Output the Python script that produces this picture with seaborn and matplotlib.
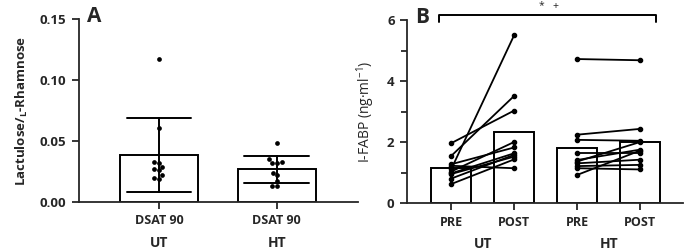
import numpy as np
import pandas as pd
import seaborn as sns
from matplotlib import pyplot as plt

## panel A data: lactulose / L-rhamnose ratio
lr_ut = [0.117, 0.061, 0.033, 0.032, 0.029, 0.027, 0.026, 0.022, 0.020, 0.019]
lr_ht = [0.048, 0.035, 0.033, 0.032, 0.032, 0.024, 0.022, 0.0175, 0.013, 0.013]

## panel B data: I-FABP pre / post (paired)
fabp_ut_pre = [1.96, 1.54, 1.27, 1.22, 1.10, 1.03, 0.97, 0.95, 0.80, 0.62]
fabp_ut_post = [3.03, 3.51, 1.82, 1.14, 5.50, 2.00, 1.63, 1.52, 1.58, 1.43]
fabp_ht_pre = [4.72, 2.24, 2.07, 1.65, 1.41, 1.36, 1.30, 1.21, 1.14, 0.92]
fabp_ht_post = [4.68, 2.43, 2.04, 1.65, 1.75, 2.00, 1.42, 1.25, 1.10, 1.72]

groups = ["UT", "HT"]
times = ["PRE", "POST"]

sns.set_style("ticks")
plt.rcParams['font.family'] = ['Open Sans', 'DejaVu Sans']
plt.rcParams['axes.linewidth'] = 1.3
plt.rcParams['xtick.major.width'] = 1.3
plt.rcParams['ytick.major.width'] = 1.3
plt.rcParams['ytick.minor.width'] = 1.3

fig = plt.figure(figsize=(6.85, 2.52), dpi=100)
ax1 = fig.add_axes([79/685, 50/252, 279/685, 183/252])
ax2 = fig.add_axes([407/685, 49/252, 276/685, 183/252])

# ---- panel A
dfa = pd.DataFrame({"group": ["UT"]*len(lr_ut) + ["HT"]*len(lr_ht),
                    "ratio": lr_ut + lr_ht})
sns.barplot(data=dfa, x="group", y="ratio", order=groups, errorbar="sd",
            width=0.66, capsize=0.55, fill=False, color="black",
            linewidth=1.4, err_kws={"linewidth": 1.4, "color": "black"}, ax=ax1)
for p in ax1.patches:
    p.set_facecolor("white")
    p.set_edgecolor("black")
    p.set_fill(True)
    p.set_zorder(0)
sns.swarmplot(data=dfa, x="group", y="ratio", order=groups, color="black",
              size=3.4, ax=ax1, zorder=4)
ax1.set_ylim(0, 0.15)
ax1.set_yticks([0, 0.05, 0.10, 0.15])
ax1.set_yticklabels(["0.00", "0.05", "0.10", "0.15"])
ax1.set_xlim(-0.68, 1.69)
ax1.set_xticks([0, 1])
ax1.set_xticklabels(["DSAT 90", "DSAT 90"], fontsize=9, fontweight="bold")
ax1.set_xlabel("")
ax1.set_ylabel("Lactulose/$_{\\mathregular{L}}$-Rhamnose", fontsize=9.5,
               fontweight="bold", labelpad=7)
for lab in ax1.get_yticklabels():
    lab.set_fontweight("bold")
    lab.set_fontsize(9.5)
ax1.tick_params(axis="both", length=5, pad=4)
for i, g in enumerate(groups):
    ax1.text(i, -0.225, g, transform=ax1.get_xaxis_transform(), ha="center",
             va="center", fontsize=10, fontweight="bold")
ax1.text(0.03, 1.07, "A", transform=ax1.transAxes, fontsize=15,
         fontweight="bold", va="top", ha="left")
sns.despine(ax=ax1)

# ---- panel B
conds = [g + " " + t for g in groups for t in times]
dfb = pd.DataFrame({"cond": ["UT PRE"]*10 + ["UT POST"]*10 + ["HT PRE"]*10 + ["HT POST"]*10,
                    "fabp": fabp_ut_pre + fabp_ut_post + fabp_ht_pre + fabp_ht_post})
sns.barplot(data=dfb, x="cond", y="fabp", order=conds, errorbar=None,
            width=0.63, color="white", edgecolor="black", linewidth=1.4, ax=ax2)
for p in ax2.patches:
    p.set_zorder(0)
pairs = {"UT": (fabp_ut_pre, fabp_ut_post), "HT": (fabp_ht_pre, fabp_ht_post)}
for g in groups:
    i0 = conds.index(g + " PRE")
    i1 = conds.index(g + " POST")
    pre, post = pairs[g]
    for a, b in zip(pre, post):
        ax2.plot([i0, i1], [a, b], color="black", lw=1.3, marker="o",
                 markersize=3, zorder=3)
ax2.set_ylim(0, 6)
ax2.set_xlim(-0.7, 3.68)
ax2.set_yticks([0, 2, 4, 6])
ax2.set_yticks([1, 3, 5], minor=True)
ax2.set_xticks(range(4))
ax2.set_xticklabels(times * 2, fontsize=9, fontweight="bold")
ax2.set_xlabel("")
ax2.set_ylabel("I-FABP (ng·ml$^{\\mathregular{-1}}$)", fontsize=10, labelpad=7)
for lab in ax2.get_yticklabels():
    lab.set_fontweight("bold")
    lab.set_fontsize(9.5)
ax2.tick_params(axis="both", which="major", length=5, pad=4)
ax2.tick_params(axis="y", which="minor", length=4)
for i, g in enumerate(groups):
    ax2.text(2*i + 0.5, -0.225, g, transform=ax2.get_xaxis_transform(),
             ha="center", va="center", fontsize=10, fontweight="bold")
ax2.text(0.03, 1.07, "B", transform=ax2.transAxes, fontsize=15,
         fontweight="bold", va="top", ha="left")
# significance bracket
ax2.plot([-0.2, -0.2, 3.25, 3.25], [5.92, 6.17, 6.17, 5.92], color="black",
         lw=1.4, clip_on=False)
ax2.text(1.55, 6.45, "*   +", ha="center", va="center", fontsize=7.5)
sns.despine(ax=ax2)

fig.savefig("out.png", dpi=100)
